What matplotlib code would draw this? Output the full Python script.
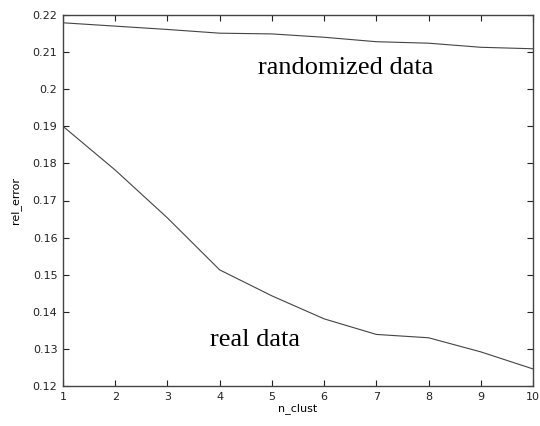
import numpy as np
import matplotlib.pyplot as plt

n_clust = [1, 2, 3, 4, 5, 6, 7, 8, 9, 10]
randomized = [0.2179, 0.2170, 0.2161, 0.2151, 0.2149, 0.2140, 0.2128, 0.2124, 0.2113, 0.2109]
real = [0.1900, 0.1782, 0.1653, 0.1513, 0.1443, 0.1381, 0.1339, 0.1330, 0.1292, 0.1246]

fig = plt.figure(figsize=(5.4, 4.26), dpi=100)
ax = fig.add_axes([63 / 540, 1 - 386 / 426, 470 / 540, 371 / 426])

ax.plot(n_clust, randomized, color="#444444", lw=0.8)
ax.plot(n_clust, real, color="#444444", lw=0.8)

ax.set_xlim(1, 10)
ax.set_ylim(0.12, 0.22)
ax.set_xticks(n_clust)
ax.set_xticklabels([str(v) for v in n_clust])
yt = np.arange(0.12, 0.2201, 0.01)
ax.set_yticks(yt)
ax.set_yticklabels(["%g" % round(v, 2) for v in yt])

ax.tick_params(direction="in", top=True, right=True, length=4, width=0.8,
               labelsize=8, colors="#222222", pad=4)
for s in ax.spines.values():
    s.set_color("#444444")
    s.set_linewidth(1.0)

ax.set_xlabel("n_clust", fontsize=8, labelpad=1)
ax.set_ylabel("rel_error", fontsize=8, labelpad=8)

ax.text(4.73, 0.2057, "randomized data", family="Liberation Serif",
        fontsize=19, va="center", ha="left")
ax.text(3.82, 0.1324, "real data", family="Liberation Serif",
        fontsize=19, va="center", ha="left")

fig.savefig("out.png", dpi=100)
